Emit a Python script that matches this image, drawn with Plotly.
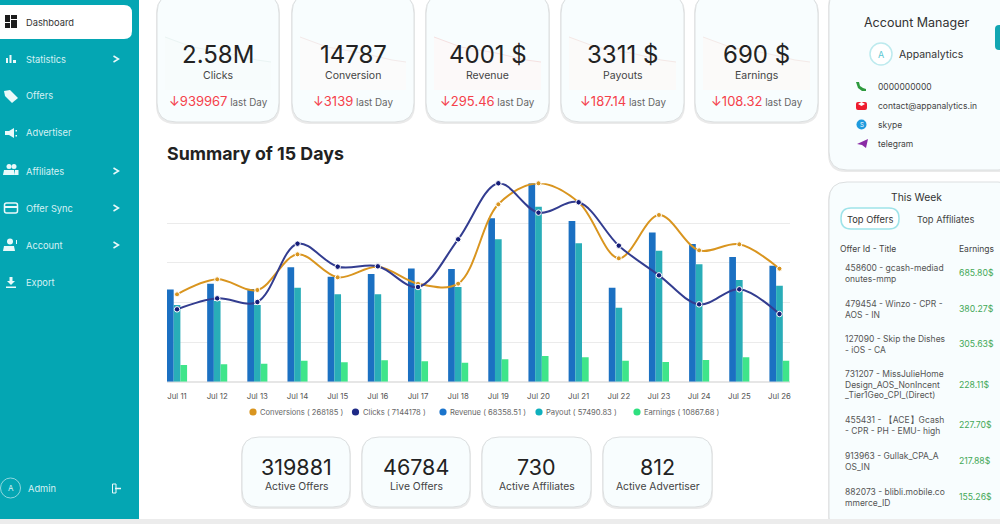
import plotly.graph_objects as go

days = ["Jul 11", "Jul 12", "Jul 13", "Jul 14", "Jul 15", "Jul 16", "Jul 17", "Jul 18",
        "Jul 19", "Jul 20", "Jul 21", "Jul 22", "Jul 23", "Jul 24", "Jul 25", "Jul 26"]
conversions = [11423, 13385, 11990, 16655, 13647, 15042, 12818, 12818,
               23195, 25942, 23457, 16132, 21800, 17178, 17963, 14780]
clicks = [276783, 318875, 304845, 528057, 440048, 441323, 362242, 544639,
          758923, 646679, 686219, 520404, 406885, 295916, 353314, 258927]
revenue = [3188, 3384, 3200, 3948, 3626, 3718, 3913, 3890,
           5640, 6850, 5548, 3246, 5156, 4754, 4305, 4005]
payout = [2648, 2786, 2648, 3246, 3016, 3016, 3200, 3269,
          4915, 6043, 4777, 2555, 4524, 4052, 3511, 3315]
earnings = [576, 599, 622, 725, 668, 737, 702, 656,
            771, 886, 840, 725, 679, 748, 840, 725]

legend_labels = ["Conversions ( 268185 )", "Clicks ( 7144178 )", "Revenue ( 68358.51 )",
                 "Payout ( 57490.83 )", "Earnings ( 10867.68 )"]

stat_values = ["2.58M", "14787", "4001 $", "3311 $", "690 $"]
stat_names = ["Clicks", "Conversion", "Revenue", "Payouts", "Earnings"]
stat_changes = ["939967", "3139", "295.46", "187.14", "108.32"]

count_values = ["319881", "46784", "730", "812"]
count_names = ["Active Offers", "Live Offers", "Active Affiliates", "Active Advertiser"]

menu_items = ["Statistics", "Offers", "Advertiser", "Affiliates", "Offer Sync", "Account", "Export"]
menu_arrows = [True, False, False, True, True, True, False]

contacts = ["0000000000", "contact@appanalytics.in", "skype", "telegram"]

offer_titles = [
    ["458600 - gcash-mediad", "onutes-mmp"],
    ["479454 - Winzo - CPR -", "AOS - IN"],
    ["127090 - Skip the Dishes", "- iOS - CA"],
    ["731207 - MissJulieHome", "Design_AOS_NonIncent", "_Tier1Geo_CPI_(Direct)"],
    ["455431 - 【ACE】Gcash", "- CPR - PH - EMU- high"],
    ["913963 - Gullak_CPA_A", "OS_IN"],
    ["882073 - blibli.mobile.co", "mmerce_ID"],
]
offer_earnings = ["685.80$", "380.27$", "305.63$", "228.11$", "227.70$", "217.88$", "155.26$"]

W, H = 1000, 524
FONT = "Inter"
TEAL = "#04A6B3"
ORANGE = "#D9951F"
NAVY = "#333D90"

shapes = []
annotations = []


def px(x):
    return x / W


def py(y):
    return 1 - y / H


def rect(x0, y0, x1, y1, fill, line=None, r=0, width=1):
    # rounded rectangle given in page pixels
    if r:
        d = (f"M {px(x0 + r)} {py(y0)} L {px(x1 - r)} {py(y0)} Q {px(x1)} {py(y0)} {px(x1)} {py(y0 + r)} "
             f"L {px(x1)} {py(y1 - r)} Q {px(x1)} {py(y1)} {px(x1 - r)} {py(y1)} "
             f"L {px(x0 + r)} {py(y1)} Q {px(x0)} {py(y1)} {px(x0)} {py(y1 - r)} "
             f"L {px(x0)} {py(y0 + r)} Q {px(x0)} {py(y0)} {px(x0 + r)} {py(y0)} Z")
        shapes.append(dict(type="path", path=d, xref="paper", yref="paper", fillcolor=fill,
                           line=dict(color=line or "rgba(0,0,0,0)", width=width if line else 0), layer="below"))
    else:
        shapes.append(dict(type="rect", xref="paper", yref="paper", x0=px(x0), x1=px(x1), y0=py(y0), y1=py(y1),
                           fillcolor=fill, line=dict(color=line or "rgba(0,0,0,0)", width=width if line else 0),
                           layer="below"))


def circle(cx, cy, r, fill, line=None, width=1):
    shapes.append(dict(type="circle", xref="paper", yref="paper", x0=px(cx - r), x1=px(cx + r),
                       y0=py(cy + r), y1=py(cy - r), fillcolor=fill,
                       line=dict(color=line or "rgba(0,0,0,0)", width=width if line else 0), layer="below"))


def poly(points, fill=None, line=None, width=1, close=True):
    d = "M " + " L ".join(f"{px(x)} {py(y)}" for x, y in points)
    if close:
        d += " Z"
    shapes.append(dict(type="path", path=d, xref="paper", yref="paper",
                       fillcolor=fill or "rgba(0,0,0,0)",
                       line=dict(color=line or "rgba(0,0,0,0)", width=width if line else 0), layer="below"))


def txt(x, y, text, size, color="#333333", anchor="left", weight=None):
    label = f"<b>{text}</b>" if weight == "bold" else text
    annotations.append(dict(x=px(x), y=py(y), xref="paper", yref="paper", text=label, showarrow=False,
                            xanchor=anchor, yanchor="middle", borderpad=0,
                            font=dict(family=FONT, size=size, color=color)))


def card(x0, y0, x1, y1, r=17, fill="#F8FDFE"):
    rect(x0 - 1, y0 + 1, x1 + 1, y1 + 2, "#EAEAEA", r=r)
    rect(x0, y0, x1, y1, fill, line="#DCDFE0", r=r, width=1)


# sidebar
rect(0, 0, 139, 519, TEAL)
rect(-10, 5, 132, 39, "#FFFFFF", r=8)
for bx0, by0, bx1, by1 in [(5, 15, 10, 22), (11, 15, 17, 19), (5, 23, 10, 28), (11, 20, 17, 28)]:
    rect(bx0, by0, bx1, by1, "#1C1C1C")
txt(25, 22, "Dashboard", 9.3, "#333333")

MENU_TEXT = "#D6F1F4"
MENU_ICON = "#EAF9FA"
menu_y = [59, 96, 133, 171, 208, 245, 282]
for name, arrow, y in zip(menu_items, menu_arrows, menu_y):
    txt(25, y, name, 9.3, MENU_TEXT)
    if arrow:
        poly([(113.5, y - 3), (118.5, y), (113.5, y + 3)], line=MENU_ICON, width=1.5, close=False)

# statistics
rect(6, 58, 8, 63, MENU_ICON)
rect(9.5, 55, 11.5, 63, MENU_ICON)
rect(13, 60, 16, 63, MENU_ICON)
# offers tag
poly([(4, 91), (10, 90), (18, 98), (12, 103), (5, 96)], fill=MENU_ICON)
# advertiser megaphone
poly([(5, 131), (9, 131), (14, 128), (14, 138), (9, 135), (5, 135)], fill=MENU_ICON)
rect(15.5, 130, 17, 131.5, MENU_ICON)
rect(15.5, 135, 17, 136.5, MENU_ICON)
# affiliates people
circle(9, 166.5, 2.5, MENU_ICON)
circle(14, 166.5, 2.5, MENU_ICON)
poly([(3, 175), (4, 170), (14, 170), (15, 175)], fill=MENU_ICON)
rect(15, 170, 18.5, 175, MENU_ICON)
# offer sync card
rect(4.5, 203, 17.5, 213, "rgba(0,0,0,0)", line=MENU_ICON, r=2, width=1.5)
rect(5, 206, 17, 208, MENU_ICON)
# account person
circle(10, 241.5, 3, MENU_ICON)
poly([(3, 251), (4, 246), (14, 246), (15, 251)], fill=MENU_ICON)
rect(16, 240, 17, 244, MENU_ICON)
# export arrow
poly([(9.5, 277), (12.5, 277), (12.5, 281), (15, 281), (11, 285), (7, 281), (9.5, 281)], fill=MENU_ICON)
rect(6, 286.5, 16, 288, MENU_ICON)

# admin footer
circle(10.5, 488, 10, "rgba(0,0,0,0)", line="#8FD8DF", width=1)
txt(10.5, 488, "A", 8, MENU_TEXT, anchor="center")
txt(27, 488, "Admin", 9.3, MENU_TEXT)
rect(112.5, 484, 116, 493, "rgba(0,0,0,0)", line=MENU_ICON, width=1)
poly([(115, 488.5), (121, 488.5)], line=MENU_ICON, width=1.5, close=False)

# top stat cards, each with its faint background sparkline
stat_x = [(157, 279), (292, 414), (426, 549), (561, 684), (695, 818)]
spark_lines = ["#EAF4F3", "#F3EAEA", "#F5E1E1", "#F4E8E6", "#F4EAE8"]
spark_fills = ["#F7FCFC", "#FBFBFB", "#FCF9F9", "#FBFAF9", "#FBFAF9"]
for (x0, x1), value, name, change, spark, spark_fill in zip(stat_x, stat_values, stat_names, stat_changes,
                                                            spark_lines, spark_fills):
    card(x0, -6, x1, 122, r=19)
    spark_pts = [(x0 + 8, 37), (x0 + 35, 47), (x0 + 70, 53), (x0 + 100, 60), (x1 - 8, 62)]
    poly(spark_pts + [(x1 - 8, 90), (x0 + 8, 90)], fill=spark_fill)
    poly(spark_pts, line=spark, width=1, close=False)
    mid = (x0 + x1) / 2
    txt(mid, 55, value, 24, "#222222", anchor="center")
    txt(mid, 75, name, 10.5, "#444444", anchor="center")
    annotations.append(dict(
        x=px(mid), y=py(101), xref="paper", yref="paper", showarrow=False, xanchor="center", yanchor="middle",
        text=f'<span style="color:#F5414B;font-size:13px">↓{change}</span>'
             f'<span style="color:#666666;font-size:9.8px"> last Day</span>',
        font=dict(family=FONT, size=13, color="#F5414B")))

txt(166, 153, "Summary of 15 Days", 17.8, "#222222", weight="bold")

# chart legend, circles and labels are laid out like the original
legend_colors = [ORANGE, "#1E2A86", "#1B74CC", "#0FB0BD", "#2EE07F"]
legend_x = [253, 355.5, 443, 539, 637]
for label, color, x in zip(legend_labels, legend_colors, legend_x):
    circle(x, 412, 3.6, color)
    txt(x + 6, 412, label, 7.6, "#666666")

# bottom count cards
count_x = [(242, 350), (362, 470), (482, 591), (603, 712)]
for (x0, x1), value, name in zip(count_x, count_values, count_names):
    card(x0, 437, x1, 507, r=17)
    mid = (x0 + x1) / 2
    txt(mid, 467, value, 21.5, "#222222", anchor="center")
    txt(mid, 486, name, 10.3, "#444444", anchor="center")

# account manager card
card(829, -12, 1016, 170, r=18)
txt(916, 22, "Account Manager", 12.5, "#333333", anchor="center")
circle(881, 54, 11, "#FFFFFF", line="#BDEAEE", width=1.5)
txt(881, 54, "A", 9, "#5CC7D2", anchor="center")
txt(898, 54, "Appanalytics", 10.5, "#333333")
rect(995, 25, 1010, 50, "#12A6B2", r=4)

contact_y = [87, 106, 125, 144]
for contact, y in zip(contacts, contact_y):
    txt(877, y, contact, 8.5, "#444444")
# contact icons
poly([(856, 82), (859, 82), (860, 86), (863, 88), (866, 89), (866, 91), (862, 91), (858, 88)], fill="#2E9A3E")
rect(856, 102, 867, 110, "#EE1C2E", r=2)
poly([(858, 104), (861.5, 102), (865, 104), (861.5, 106)], fill="#FFFFFF")
circle(861.5, 124.5, 5, "#1F9BDE")
txt(861.5, 124.5, "S", 6, "#FFFFFF", anchor="center")
poly([(857, 144), (868, 139), (866, 148), (862, 145)], fill="#8A2BA5")

# top offers card
card(829, 182, 1016, 535, r=18)
txt(916, 197, "This Week", 10.3, "#333333", anchor="center")
rect(841, 208, 899, 229, "#FFFFFF", line="#9FE3E9", r=10, width=1.5)
txt(870, 219, "Top Offers", 9.3, "#333333", anchor="center")
txt(945, 219, "Top Affiliates", 9.3, "#444444", anchor="center")
txt(839, 249, "Offer Id - Title", 8.5, "#444444")
txt(958, 249, "Earnings", 8.5, "#444444")

row_y = [268, 304, 339, 374, 420, 456, 492]
for title_lines, earned, y in zip(offer_titles, offer_earnings, row_y):
    for i, part in enumerate(title_lines):
        txt(844, y + i * 10.5, part, 8.5, "#555555")
    txt(958, y + (len(title_lines) - 1) * 5.25, earned, 8.7, "#43A857")

# grey strip under the page covers the bottom of the cards
rect(0, 519, 1000, 524, "#ECECEC")

fig = go.Figure()
fig.add_trace(go.Bar(x=days, y=revenue, name="Revenue", marker=dict(color="#1B70C2", line=dict(width=0))))
fig.add_trace(go.Bar(x=days, y=payout, name="Payout", marker=dict(color="#29ADB8", line=dict(width=0))))
fig.add_trace(go.Bar(x=days, y=earnings, name="Earnings", marker=dict(color="#3FE58A", line=dict(width=0))))
fig.add_trace(go.Scatter(
    x=days, y=conversions, name="Conversions", yaxis="y2", mode="lines+markers", cliponaxis=False,
    line=dict(color=ORANGE, width=2, shape="spline", smoothing=1.0),
    marker=dict(size=5, color=ORANGE, line=dict(color="#FFFFFF", width=1))))
fig.add_trace(go.Scatter(
    x=days, y=clicks, name="Clicks", yaxis="y3", mode="lines+markers", cliponaxis=False,
    line=dict(color=NAVY, width=2, shape="spline", smoothing=1.0),
    marker=dict(size=5.5, color="#141C78", line=dict(color="#FFFFFF", width=1))))

plot_x = [167 / W, 789.5 / W]
plot_y = [py(381.7), py(183.3)]
fig.update_layout(
    width=W,
    height=H,
    margin=dict(l=0, r=0, t=0, b=0),
    paper_bgcolor="#FFFFFF",
    plot_bgcolor="rgba(0,0,0,0)",
    showlegend=False,
    barmode="group",
    bargap=0.5,
    bargroupgap=0,
    shapes=shapes,
    annotations=annotations,
    font=dict(family=FONT),
    xaxis=dict(domain=plot_x, range=[-0.25, 15.25], type="category", showgrid=False, showline=False,
               zeroline=False, ticks="outside", ticklen=7, tickcolor="rgba(0,0,0,0)",
               tickfont=dict(size=7.8, color="#555555"), tickangle=0,
               tickmode="array", tickvals=days, ticktext=days),
    yaxis=dict(domain=plot_y, range=[0, 6851], tick0=0, dtick=1370, showticklabels=False, ticks="",
               gridcolor="#EBEBEB", gridwidth=1, zeroline=True, zerolinecolor="#E6E6E6", showline=False),
    yaxis2=dict(range=[0, 25942], overlaying="y", visible=False),
    yaxis3=dict(range=[0, 758923], overlaying="y", visible=False),
)

fig.write_html("out.html", config={"displayModeBar": False},
               post_script="document.body.style.margin='0';document.body.style.overflow='hidden';")
